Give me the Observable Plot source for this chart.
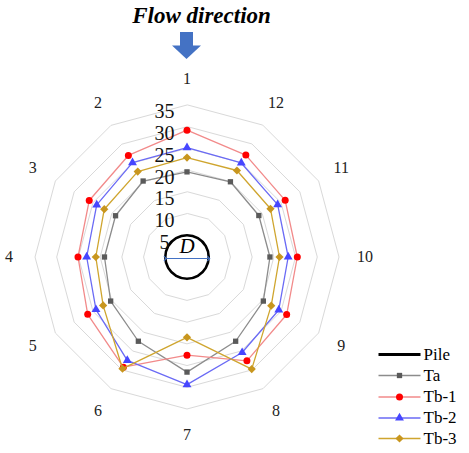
<!DOCTYPE html>
<html>
<head>
<meta charset="utf-8">
<script src="https://cdn.jsdelivr.net/npm/d3@7"></script>
<script src="https://cdn.jsdelivr.net/npm/@observablehq/plot@0.6"></script>
<style>
  html, body { margin: 0; padding: 0; background: #fff; }
  #chart { width: 469px; height: 453px; }
  #chart svg text { font-family: "Liberation Serif", "Times New Roman", "DejaVu Serif", serif !important; }
</style>
</head>
<body>
<div id="chart"></div>
<script>
// ---- data ----
const directions = ["1","2","3","4","5","6","7","8","9","10","11","12"];
const pileValues = [5,5,5,5,5,5,5,5,5,5,5,5];
const taValues   = [19.6,20.2,19.0,19.0,20.3,22.4,26.5,22.4,20.3,19.1,19.1,20.0];
const tb1Values  = [29.2,27.0,26.0,25.1,26.4,29.3,22.6,27.6,26.5,25.4,26.1,27.1];
const tb2Values  = [25.2,25.1,24.0,23.1,24.2,27.5,29.4,25.4,24.4,23.3,24.1,25.0];
const tb3Values  = [22.9,22.7,22.0,21.0,22.3,29.7,18.5,29.8,22.4,21.3,22.2,23.0];
const ringTicks  = [5,10,15,20,25,30,35];
const seriesNames = ["Pile","Ta","Tb-1","Tb-2","Tb-3"];
const titleText = "Flow direction";
const pileLabel = "D";

// ---- layout ----
const W = 469, H = 453;
const CX = 186.5, CY = 256.5;
const K = 152 / 35;                // px per unit
const ux = px => (px - CX) / K;
const uy = py => (CY - py) / K;
const serif = "Liberation Serif, Times New Roman, DejaVu Serif, serif";

const styles = {
  "Pile": {line: "#000000", width: 2.6, marker: null},
  "Ta":   {line: "#8c8c8c", width: 1.3, marker: "#5a5a5a", symbol: "square", r: 3.0},
  "Tb-1": {line: "#f28a8a", width: 1.3, marker: "#ff0000", symbol: "circle", r: 3.5},
  "Tb-2": {line: "#6a6af5", width: 1.3, marker: "#4646ff", symbol: "triangle", r: 3.3},
  "Tb-3": {line: "#cfa52e", width: 1.3, marker: "#c8961e", symbol: "diamond2", r: 3.7}
};
const valuesBySeries = {"Pile": pileValues, "Ta": taValues, "Tb-1": tb1Values, "Tb-2": tb2Values, "Tb-3": tb3Values};

const angle = i => Math.PI / 2 + i * Math.PI / 6; // 1 at top, counterclockwise
const pt = (series, value, i) => ({series, dir: directions[i], value,
  x: value * Math.cos(angle(i)), y: value * Math.sin(angle(i))});

const rings = ringTicks.flatMap(t => directions.map((d, i) => ({...pt("ring", t, i), tick: t})));
const seriesData = Object.fromEntries(seriesNames.map(s => [s, valuesBySeries[s].map((v, i) => pt(s, v, i))]));

const dirLabels = directions.map((d, i) => ({label: d, x: 41 * Math.cos(angle(i)), y: 41 * Math.sin(angle(i))}));
const tickLabels = ringTicks.map(t => ({label: String(t), x: ux(164), y: t}));

// legend rows
const legendRowsY = [354, 375, 396.5, 417.5, 438];
const legend = seriesNames.map((s, j) => ({series: s, y: uy(legendRowsY[j]), x1: ux(378), x2: ux(420), xm: ux(399), xt: ux(423)}));

const marks = [];
// grid rings
marks.push(Plot.line(rings, {x: "x", y: "y", z: "tick", curve: "linear-closed", stroke: "#d9d9d9", strokeWidth: 1}));
// pile
marks.push(Plot.line(seriesData["Pile"], {x: "x", y: "y", curve: "catmull-rom-closed", stroke: "#000", strokeWidth: 2.6}));
// D arrow across the pile diameter (directions 4 and 10)
marks.push(Plot.link([{a: seriesData["Pile"][3], b: seriesData["Pile"][9]}], {
  x1: d => d.a.x, x2: d => d.b.x, y1: d => d.a.y - 0.35, y2: d => d.b.y - 0.35,
  stroke: "#4472c4", strokeWidth: 1.1, markerStart: "arrow", markerEnd: "arrow"}));
marks.push(Plot.text([pileLabel], {x: d => 0, y: d => uy(246), text: d => d, fontFamily: serif, fontStyle: "italic", fontSize: 21, fill: "#000"}));
// series
for (const s of ["Ta", "Tb-1", "Tb-2", "Tb-3"]) {
  const st = styles[s];
  marks.push(Plot.line(seriesData[s], {x: "x", y: "y", curve: "linear-closed", stroke: st.line, strokeWidth: st.width}));
  marks.push(Plot.dot(seriesData[s], {x: "x", y: "y", symbol: st.symbol, r: st.r, fill: st.marker, stroke: "none"}));
}
// tick labels on radial axis
marks.push(Plot.text(tickLabels, {x: "x", y: "y", text: "label", dy: 7, fontFamily: serif, fontSize: 20, fill: "#111"}));
// direction labels
marks.push(Plot.text(dirLabels, {x: "x", y: "y", text: "label", fontFamily: serif, fontSize: 16, fill: "#222"}));
// title
marks.push(Plot.text([titleText], {x: d => ux(201), y: d => uy(15), text: d => d, fontFamily: serif, fontStyle: "italic", fontWeight: "bold", fontSize: 23, fill: "#000"}));
// flow arrow (block arrow)
marks.push(Plot.rect([0], {x1: d => ux(180), x2: d => ux(193), y1: d => uy(46), y2: d => uy(32), fill: "#4472c4"}));
marks.push(Plot.areaY([{x: ux(172), y: uy(45.5)}, {x: ux(186.5), y: uy(59)}, {x: ux(201), y: uy(45.5)}],
  {x: "x", y1: d => uy(45.5), y2: "y", fill: "#4472c4", curve: "linear"}));
// legend
for (const row of legend) {
  const st = styles[row.series];
  marks.push(Plot.link([row], {x1: "x1", x2: "x2", y1: "y", y2: "y", stroke: st.line, strokeWidth: row.series === "Pile" ? 3 : 1.4}));
  if (st.marker) marks.push(Plot.dot([row], {x: "xm", y: "y", symbol: st.symbol, r: st.r, fill: st.marker}));
  marks.push(Plot.text([row], {x: "xt", y: "y", text: "series", textAnchor: "start", fontFamily: serif, fontSize: 17, fill: "#000"}));
}

const chart = Plot.plot({
  width: W, height: H, margin: 0,
  x: {type: "linear", domain: [ux(0), ux(W)], range: [0, W], axis: null},
  y: {type: "linear", domain: [uy(H), uy(0)], range: [H, 0], axis: null},
  style: {background: "#fff", fontFamily: serif},
  marks
});
document.getElementById("chart").appendChild(chart);
</script>
</body>
</html>
